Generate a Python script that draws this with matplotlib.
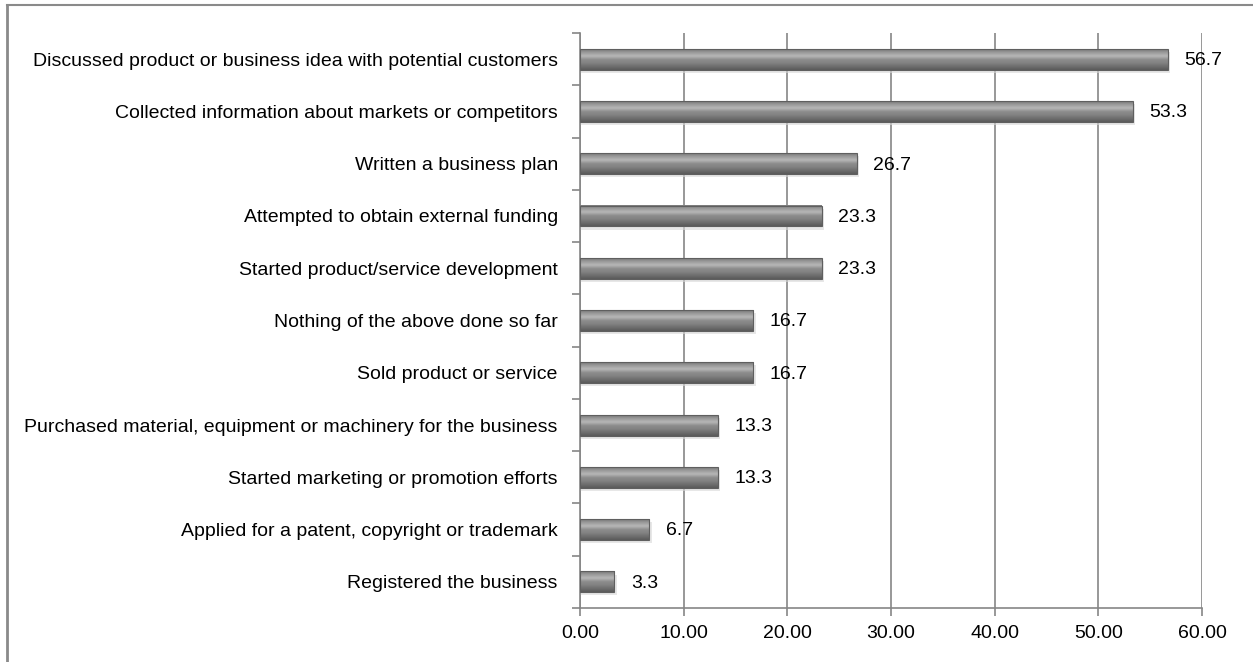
import numpy as np
import matplotlib.pyplot as plt
from matplotlib.lines import Line2D
from matplotlib.colors import LinearSegmentedColormap

plt.rcParams['font.family'] = ['Liberation Sans', 'DejaVu Sans']

activities = [
    "Discussed product or business idea with potential customers",
    "Collected information about markets or competitors",
    "Written a business plan",
    "Attempted to obtain external funding",
    "Started product/service development",
    "Nothing of the above done so far",
    "Sold product or service",
    "Purchased material, equipment or machinery for the business",
    "Started marketing or promotion efforts",
    "Applied for a patent, copyright or trademark",
    "Registered the business",
]
shares = [56.7, 53.3, 26.7, 23.3, 23.3, 16.7, 16.7, 13.3, 13.3, 6.7, 3.3]

grid_col = "#868686"
bar_h = 0.4
fs = 14

fig = plt.figure(figsize=(12.53, 6.62), dpi=100)
ax = fig.add_axes([580 / 1253, 1 - 608 / 662, 622 / 1253, 575 / 662])

# cylinder-style shading: light rim on top, dark band on the bottom
shade = LinearSegmentedColormap.from_list(
    "bar_shade",
    ["#5a5a5a", "#6e6e6e", "#828282", "#8c8c8c", "#b8b8b8", "#9c9c9c", "#7a7a7a"])
grad = np.linspace(0, 1, 64).reshape(-1, 1)

n = len(activities)
ypos = np.arange(n)[::-1]
for y, v in zip(ypos, shares):
    # soft shadow under each bar
    ax.add_patch(plt.Rectangle((0, y - bar_h / 2 - 0.06), v + 0.25, bar_h,
                               color="#d8d8d8", lw=0, zorder=2, alpha=0.6))
    ax.imshow(grad, cmap=shade, aspect="auto", origin="lower",
              extent=(0, v, y - bar_h / 2, y + bar_h / 2), zorder=3,
              interpolation="bicubic")
    ax.add_patch(plt.Rectangle((0, y - bar_h / 2), v, bar_h, fill=False,
                               ec="#5f5f5f", lw=0.8, zorder=4))
    ax.annotate(f"{v:.1f}", xy=(v, y), xytext=(12, -1), textcoords="offset points",
                ha="left", va="center", fontsize=fs, color="#000000", zorder=5)

ax.set_xlim(0, 60)
ax.set_ylim(-0.5, n - 0.5)
ax.set_xticks(np.arange(0, 61, 10))
ax.set_xticklabels([f"{t:.2f}" for t in np.arange(0, 61, 10)], fontsize=fs)
ax.set_yticks(ypos)
ax.set_yticklabels(activities, fontsize=fs)
ax.set_yticks(np.arange(-0.5, n, 1), minor=True)
ax.tick_params(axis="y", which="major", length=0, pad=16)
ax.tick_params(axis="y", which="minor", length=6, color=grid_col, width=1.2)
ax.tick_params(axis="x", length=6, color=grid_col, width=1.2, pad=6)

ax.grid(axis="x", color=grid_col, lw=1.2, zorder=1)
ax.set_axisbelow(True)
for side in ("top", "right"):
    ax.spines[side].set_visible(False)
for side in ("left", "bottom"):
    ax.spines[side].set_color(grid_col)
    ax.spines[side].set_linewidth(1.2)

# chart-area border
fig.add_artist(Line2D([7 / 1253, 7 / 1253], [0, 1 - 5 / 662], color="#8a8a8a", lw=2,
                      transform=fig.transFigure))
fig.add_artist(Line2D([7 / 1253, 1], [1 - 5 / 662, 1 - 5 / 662], color="#8a8a8a", lw=1.5,
                      transform=fig.transFigure))

fig.savefig("out.png", dpi=100)
